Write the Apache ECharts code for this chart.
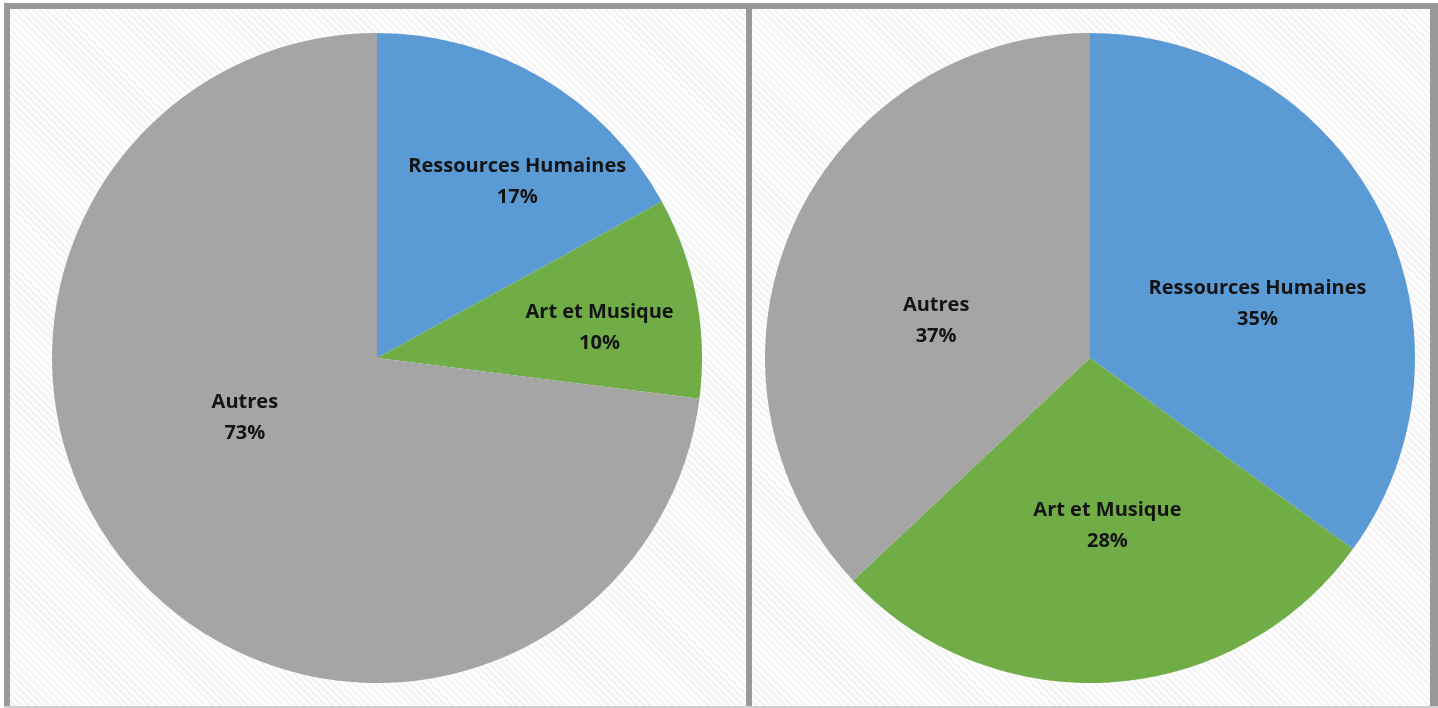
<!DOCTYPE html>
<html>
<head>
<meta charset="utf-8">
<script src="https://cdn.jsdelivr.net/npm/echarts@6/dist/echarts.min.js"></script>
<style>
html,body{margin:0;padding:0;background:#fff;width:1438px;height:708px;overflow:hidden;}
#frame{position:absolute;left:4px;top:3px;width:1434px;height:705px;background:#999;}
#bottomline{position:absolute;left:4px;top:706px;width:1434px;height:2px;background:#cfcfcf;}
.panel{position:absolute;top:9px;height:697px;
background:repeating-linear-gradient(45deg,#ffffff 0px,#ffffff 2.5px,#f4f4f4 2.5px,#f4f4f4 5px);}
#p1{left:10px;width:736px;}
#p2{left:752px;width:678px;}
#chart{position:absolute;left:0;top:0;width:1438px;height:708px;}
</style>
</head>
<body>
<div id="frame"></div>
<div id="bottomline"></div>
<div class="panel" id="p1"></div>
<div class="panel" id="p2"></div>
<div id="chart"></div>
<script>
const categories = ['Ressources Humaines', 'Art et Musique', 'Autres'];
const leftValues = [17, 10, 73];
const rightValues = [35, 28, 37];
const colors = ['#5B9BD5', '#70AD47', '#A5A5A5'];

const leftOffsets = [[56, -34], [60, 1], [-8, -50]];
const rightOffsets = [[20, 21], [7, 3], [-2, 29]];

function makeSeries(values, center, offsets) {
  return {
    type: 'pie',
    center: center,
    radius: [0, 325],
    startAngle: 90,
    clockwise: true,
    animation: false,
    silent: true,
    itemStyle: { borderWidth: 0 },
    label: {
      show: true,
      position: 'inside',
      formatter: '{b}\n{d}%',
      fontFamily: '"Open Sans", sans-serif',
      fontWeight: 'bold',
      fontSize: 20,
      lineHeight: 31,
      color: '#141414',
      align: 'center'
    },
    labelLine: { show: false },
    labelLayout: function (p) {
      const o = offsets[p.dataIndex];
      return { dx: o[0], dy: o[1] };
    },
    data: categories.map((c, i) => ({
      name: c,
      value: values[i],
      itemStyle: { color: colors[i] }
    }))
  };
}

const chart = echarts.init(document.getElementById('chart'), null, { renderer: 'canvas' });
chart.setOption({
  backgroundColor: 'transparent',
  series: [
    makeSeries(leftValues, [377, 358], leftOffsets),
    makeSeries(rightValues, [1090, 358], rightOffsets)
  ]
});
</script>
</body>
</html>
